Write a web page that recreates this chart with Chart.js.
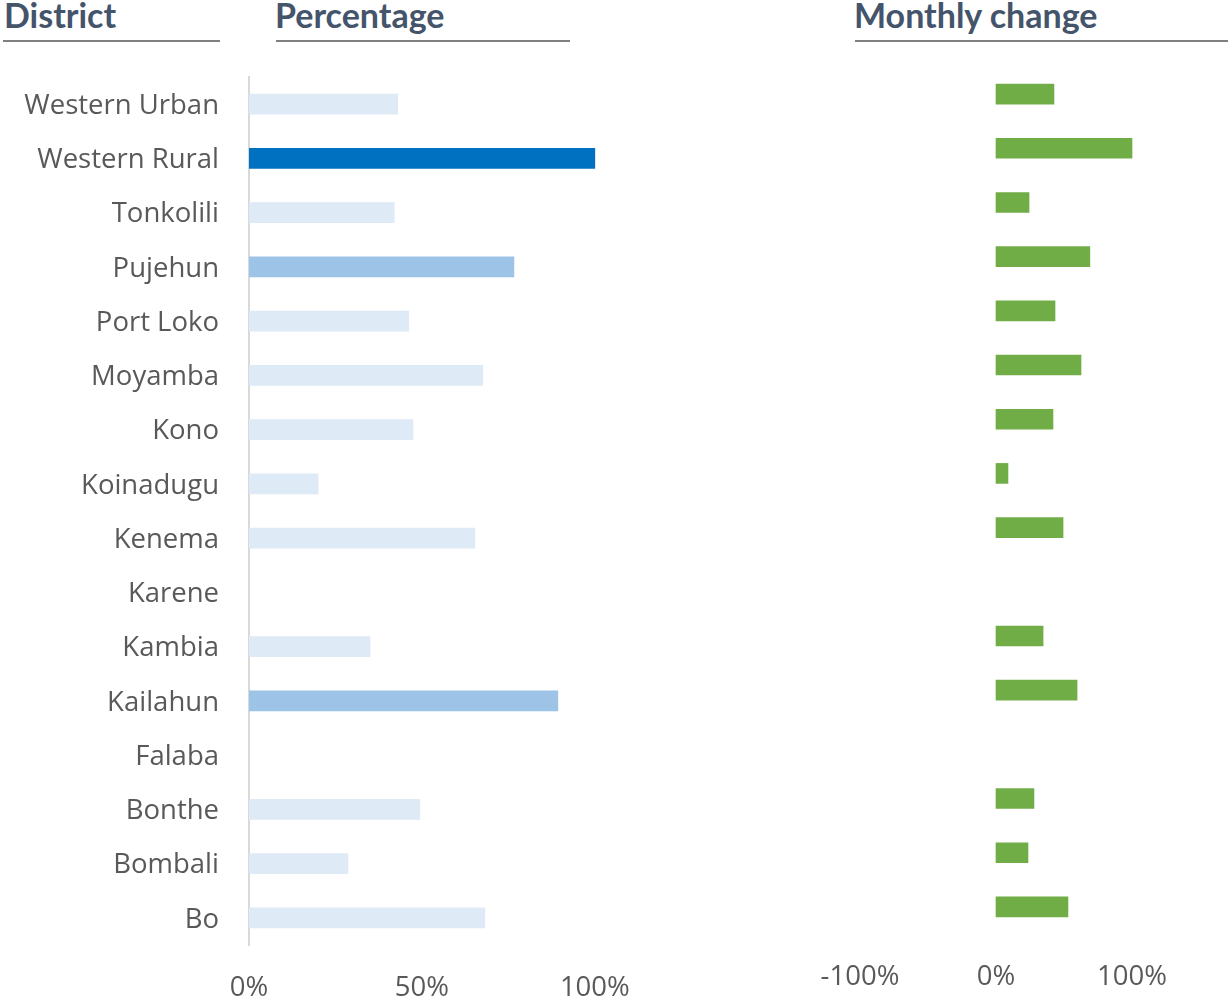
<!DOCTYPE html>
<html>
<head>
<meta charset="utf-8">
<script src="https://cdn.jsdelivr.net/npm/chart.js@4.4.0/dist/chart.umd.min.js"></script>
<style>
  body { margin: 0; background: #fff; width: 1230px; height: 1008px; position: relative; overflow: hidden; }
  .head { position: absolute; top: -6px; font-family: Lato, "Open Sans", sans-serif; font-weight: bold; font-size: 34px; color: #44546a; }
  .rule { position: absolute; top: 40px; height: 2px; background: #808080; }
  #leftBox { position: absolute; left: 0; top: 0; width: 700px; height: 1008px; }
  #rightBox { position: absolute; left: 700px; top: 0; width: 530px; height: 1008px; }
</style>
</head>
<body>
<div class="head" style="left:4px">District</div>
<div class="rule" style="left:3px;width:217px"></div>
<div class="head" style="left:275px">Percentage</div>
<div class="rule" style="left:276px;width:294px"></div>
<div class="head" style="left:854px">Monthly change</div>
<div class="rule" style="left:855px;width:373px"></div>

<div id="leftBox"><canvas id="leftChart"></canvas></div>
<div id="rightBox"><canvas id="rightChart"></canvas></div>

<script>
const districts = ["Western Urban", "Western Rural", "Tonkolili", "Pujehun", "Port Loko", "Moyamba",
  "Kono", "Koinadugu", "Kenema", "Karene", "Kambia", "Kailahun", "Falaba", "Bonthe", "Bombali", "Bo"];
const percentage = [0.43, 1.0, 0.42, 0.766, 0.462, 0.676, 0.474, 0.2, 0.653, null, 0.35, 0.893, null, 0.494, 0.286, 0.682];
const monthlyChange = [0.426, 1.0, 0.243, 0.69, 0.434, 0.625, 0.419, 0.088, 0.493, null, 0.346, 0.596, null, 0.279, 0.235, 0.529];
const percentTicks = [0, 0.5, 1];
const changeTicks = [-1, 0, 1];

const selected = "Western Rural";
const secondary = ["Pujehun", "Kailahun"];

function barColor(name) {
  if (name === selected) return "#0070c0";
  if (secondary.includes(name)) return "#9dc3e6";
  return "#deeaf6";
}

const tickFont = { family: "'Open Sans', sans-serif", size: 27.5 };
const fmt = v => Math.round(v * 100) + "%";

new Chart(document.getElementById("leftChart"), {
  type: "bar",
  data: {
    labels: districts,
    datasets: [{
      data: percentage,
      backgroundColor: districts.map(barColor),
      barThickness: 20
    }]
  },
  options: {
    indexAxis: "y",
    responsive: true,
    maintainAspectRatio: false,
    animation: false,
    layout: { padding: { top: 77, right: 36, bottom: 0, left: 0 } },
    plugins: { legend: { display: false }, tooltip: { enabled: false } },
    scales: {
      x: {
        min: 0,
        max: 1.2,
        afterBuildTicks: axis => { axis.ticks = percentTicks.map(v => ({ value: v })); },
        afterFit: axis => { axis.height = 63; },
        grid: { display: false, drawTicks: false },
        border: { display: false },
        ticks: { color: "#595959", font: tickFont, padding: 27, maxRotation: 0, callback: fmt }
      },
      y: {
        afterFit: axis => { axis.width = 249; },
        grid: { display: false, drawTicks: false },
        border: { display: true, color: "#d9d9d9", width: 2 },
        ticks: { color: "#595959", font: tickFont, padding: 30, labelOffset: 2 }
      }
    }
  }
});

new Chart(document.getElementById("rightChart"), {
  type: "bar",
  data: {
    labels: districts,
    datasets: [{
      data: monthlyChange,
      backgroundColor: "#70ad47",
      barThickness: 20
    }]
  },
  options: {
    indexAxis: "y",
    responsive: true,
    maintainAspectRatio: false,
    animation: false,
    layout: { padding: { top: 67, right: 30, bottom: 0, left: 92 } },
    plugins: { legend: { display: false }, tooltip: { enabled: false } },
    scales: {
      x: {
        min: -1.5,
        max: 1.5,
        afterBuildTicks: axis => { axis.ticks = changeTicks.map(v => ({ value: v })); },
        afterFit: axis => { axis.height = 74; },
        grid: { display: false, drawTicks: false },
        border: { display: false },
        ticks: { color: "#595959", font: tickFont, padding: 27, maxRotation: 0, callback: fmt }
      },
      y: {
        display: false
      }
    }
  }
});
</script>
</body>
</html>
